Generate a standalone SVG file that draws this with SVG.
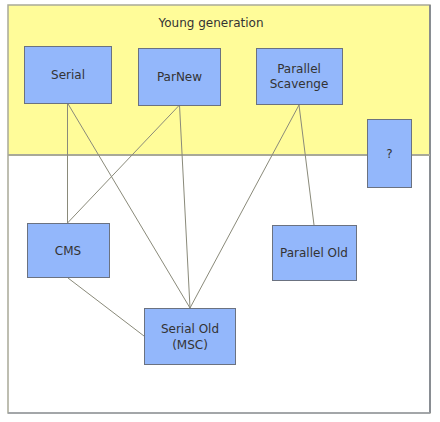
<svg xmlns="http://www.w3.org/2000/svg" width="440" height="422" viewBox="0 0 440 422">
<style>
.node rect{fill:#93b7fb;stroke:#6b7280;stroke-width:1}
.node text,.lbl{font-family:"DejaVu Sans",Verdana,sans-serif;font-size:12px;fill:#333;text-anchor:middle}
.conn line{stroke:#8a8a7a;stroke-width:1}
</style>
<rect x="0" y="0" width="440" height="422" fill="#ffffff"/>
<g id="frame">
<rect x="8" y="5" width="422" height="150" fill="#fffc99"/>
<rect x="8" y="5" width="422" height="408" fill="none" stroke="#a9a998" stroke-width="1.5"/>
<line x1="430" y1="5" x2="430" y2="413" stroke="#777c88" stroke-width="1.5"/>
<line x1="8" y1="413" x2="430" y2="413" stroke="#9a9ea6" stroke-width="1.5"/>
<line x1="8" y1="155" x2="430" y2="155" stroke="#a9a998" stroke-width="2"/>
<text class="lbl" x="211" y="27">Young generation</text>
</g>
<g id="connectors" class="conn">
<line x1="67.5" y1="103" x2="67.5" y2="223"/>
<line x1="67.5" y1="103" x2="190" y2="308"/>
<line x1="179.5" y1="105" x2="67.5" y2="223"/>
<line x1="179.5" y1="105" x2="190" y2="308"/>
<line x1="299" y1="105" x2="190" y2="308"/>
<line x1="299" y1="105" x2="314" y2="225"/>
<line x1="68" y1="278" x2="144" y2="336"/>
</g>
<g id="serial" class="node"><rect x="24.5" y="46.5" width="87" height="57"/><text x="68" y="79">Serial</text></g>
<g id="parnew" class="node"><rect x="138.5" y="48.5" width="82" height="57"/><text x="179.5" y="81">ParNew</text></g>
<g id="parallel-scavenge" class="node"><rect x="256.5" y="48.5" width="86" height="56"/><text x="299" y="73">Parallel</text><text x="299" y="88">Scavenge</text></g>
<g id="unknown" class="node"><rect x="367.5" y="119.5" width="44" height="68"/><text x="389.5" y="158">?</text></g>
<g id="cms" class="node"><rect x="27.5" y="223.5" width="82" height="54"/><text x="68" y="255">CMS</text></g>
<g id="parallel-old" class="node"><rect x="272.5" y="225.5" width="84" height="55"/><text x="314" y="257">Parallel Old</text></g>
<g id="serial-old" class="node"><rect x="144.5" y="308.5" width="91" height="56"/><text x="190" y="333">Serial Old</text><text x="190" y="349">(MSC)</text></g>
</svg>
